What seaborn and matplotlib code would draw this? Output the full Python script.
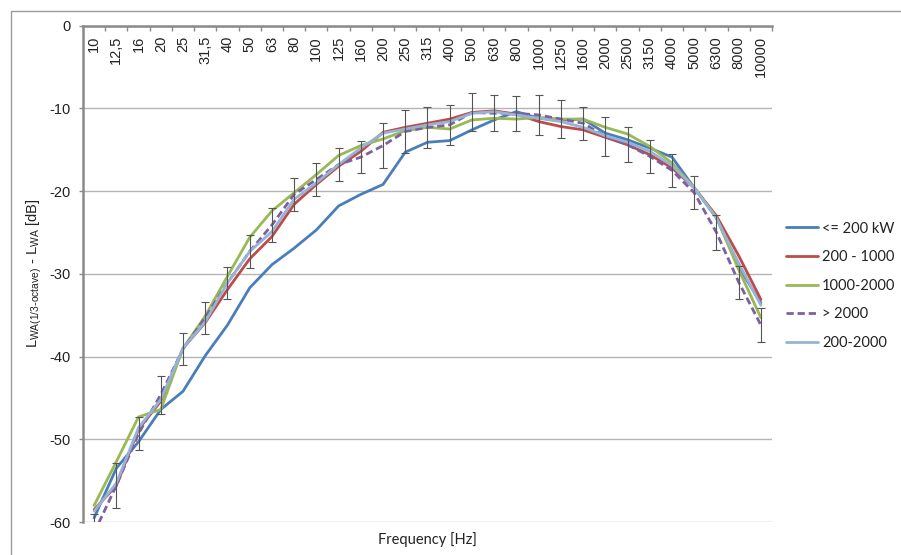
import numpy as np
import pandas as pd
import matplotlib
matplotlib.use("Agg")
import matplotlib.pyplot as plt
from matplotlib.patches import Rectangle
from matplotlib.ticker import FixedLocator
import seaborn as sns

# ---------------- data ----------------
frequencies = ["10", "12,5", "16", "20", "25", "31,5", "40", "50", "63", "80",
               "100", "125", "160", "200", "250", "315", "400", "500", "630", "800",
               "1000", "1250", "1600", "2000", "2500", "3150", "4000", "5000",
               "6300", "8000", "10000"]

le_200 = [-59.5, -53.5, -50.3, -46.4, -44.2, -39.9, -36.2, -31.7, -28.9, -26.9,
          -24.7, -21.8, -20.4, -19.2, -15.3, -14.1, -13.9, -12.6, -11.4, -10.4,
          -11.2, -11.4, -11.3, -13.0, -13.8, -14.8, -15.9, -19.6, -23.2, -29.2, -33.5]

r200_1000 = [-58.5, -55.6, -48.8, -45.4, -39.0, -35.9, -31.9, -28.2, -25.5, -21.6,
             -19.2, -17.0, -15.2, -12.9, -12.3, -11.8, -11.3, -10.5, -10.3, -10.7,
             -11.6, -12.2, -12.6, -13.5, -14.4, -15.6, -17.2, -19.6, -23.0, -27.8, -33.1]

r1000_2000 = [-58.0, -52.7, -47.3, -46.4, -39.0, -35.1, -30.3, -25.6, -22.4, -20.2,
              -18.0, -15.7, -14.5, -13.7, -12.7, -12.3, -12.5, -11.4, -11.2, -11.3,
              -11.1, -11.3, -11.3, -12.3, -13.1, -14.6, -16.6, -19.6, -23.2, -29.5, -35.3]

gt_2000 = [-61.3, -55.6, -49.3, -44.6, -39.1, -35.3, -31.1, -27.3, -24.1, -20.4,
           -18.6, -16.8, -15.9, -14.5, -12.8, -12.3, -12.0, -10.5, -10.6, -10.6,
           -10.8, -11.3, -11.8, -13.4, -14.4, -15.8, -17.5, -20.2, -25.0, -31.0, -36.2]

gt_2000_err = [2.3, 2.75, 2.05, 2.3, 1.9, 1.95, 1.95, 1.95, 2.1, 1.95,
               1.95, 1.95, 1.95, 2.7, 2.55, 2.45, 2.4, 2.3, 2.2, 2.1,
               2.4, 2.3, 2.0, 2.4, 2.1, 2.0, 2.0, 2.0, 2.1, 2.0, 2.1]

r200_2000 = [-58.7, -55.3, -48.6, -45.2, -39.0, -35.8, -31.1, -27.3, -24.9, -21.0,
             -19.0, -16.8, -14.8, -13.0, -12.5, -12.0, -11.6, -10.6, -10.4, -10.8,
             -11.2, -11.6, -12.3, -13.3, -14.1, -15.2, -16.9, -19.6, -23.3, -28.7, -33.8]

series_names = ["<= 200 kW", "200 - 1000", "1000-2000", "> 2000", "200-2000"]
series_values = [le_200, r200_1000, r1000_2000, gt_2000, r200_2000]
series_colors = ["#4A7EBB", "#BE4B48", "#98B954", "#7D60A0", "#95B3D7"]

y_ticks = [-60, -50, -40, -30, -20, -10, 0]
y_tick_labels = ["-60", "-50", "-40", "-30", "-20", "-10", "0"]

# ---------------- figure ----------------
sns.set_style("white")
plt.rcParams["axes.unicode_minus"] = False
plt.rcParams["font.family"] = ["Liberation Sans", "DejaVu Sans"]

fig = plt.figure(figsize=(9.01, 5.55), dpi=100)
fig.patch.set_facecolor("white")
fig.add_artist(Rectangle((10.5 / 901, -0.1), 1.2, 1.1 - 10.5 / 555,
                         transform=fig.transFigure, fill=False,
                         edgecolor="#9a9a9a", lw=1.0))

ax = fig.add_axes([83 / 901, 1 - 522 / 555, (772 - 83) / 901, (522 - 25.6) / 555])
ax.set_facecolor("none")

x_idx = np.arange(len(frequencies))
frames = []
for name, vals in zip(series_names, series_values):
    frames.append(pd.DataFrame({"x": x_idx, "y": vals, "series": name}))
df = pd.concat(frames, ignore_index=True)

for i, (name, col) in enumerate(zip(series_names, series_colors)):
    sub = df[df["series"] == name]
    kw = {}
    if name == "> 2000":
        kw["linestyle"] = (0, (2.6, 1.4))
    sns.lineplot(data=sub, x="x", y="y", color=col, lw=2.0, label=name,
                 ax=ax, zorder=2 + i * 0.1, **kw)

ax.errorbar(x_idx, gt_2000, yerr=gt_2000_err, fmt="none", ecolor="#555555",
            elinewidth=0.8, capsize=3.2, capthick=0.8, zorder=3,
            label="_nolegend_")

# axes limits & grid
ax.set_xlim(-0.5, len(frequencies) - 0.5)
ax.set_ylim(-60, 0)
ax.set_yticks(y_ticks)
ax.set_yticklabels(y_tick_labels, fontsize=10.5, color="#222222")
ax.yaxis.grid(True, color="#b4b4b4", lw=1.0)
ax.xaxis.grid(False)
ax.set_axisbelow(True)

for s in ["right", "bottom"]:
    ax.spines[s].set_visible(False)
for s in ["left", "top"]:
    ax.spines[s].set_visible(True)
    ax.spines[s].set_color("#8a8a8a")
    ax.spines[s].set_linewidth(1.8)

ax.tick_params(axis="y", left=True, direction="out", length=3, width=1,
               color="#8a8a8a", pad=6)

# category axis on top, labels hanging inside the plot
ax.set_xticks(x_idx)
ax.set_xticklabels(frequencies, rotation=90, fontsize=10.5, color="#222222")
ax.xaxis.set_minor_locator(FixedLocator(np.arange(-0.5, len(frequencies), 1.0)))
ax.tick_params(axis="x", which="major", bottom=False, top=True, labelbottom=False,
               labeltop=True, length=0, direction="in", pad=-7.5)
ax.tick_params(axis="x", which="minor", bottom=False, top=True, length=3.5,
               width=1, direction="in", color="#8a8a8a")
for lab in ax.get_xticklabels():
    lab.set_verticalalignment("top")

ax.set_xlabel("Frequency [Hz]", fontsize=10.5, family=["Lato", "DejaVu Sans"],
              color="#222222", labelpad=4)
ax.xaxis.set_label_position("bottom")
ax.set_ylabel(r"L$_\mathregular{WA(1/3\text{-}octave)}$ - L$_\mathregular{WA}$ [dB]",
              fontsize=10.5, color="#222222")
ax.yaxis.set_label_coords(-0.056, 0.5)

leg = ax.legend(loc="center left", bbox_to_anchor=(1.012, 0.476), frameon=False,
                handlelength=2.2, handletextpad=0.25,
                labelspacing=1.0, borderaxespad=0.0,
                prop={"family": ["Lato", "DejaVu Sans"], "size": 10.5})
for t in leg.get_texts():
    t.set_color("#222222")

fig.savefig("out.png", dpi=100, facecolor="white")
